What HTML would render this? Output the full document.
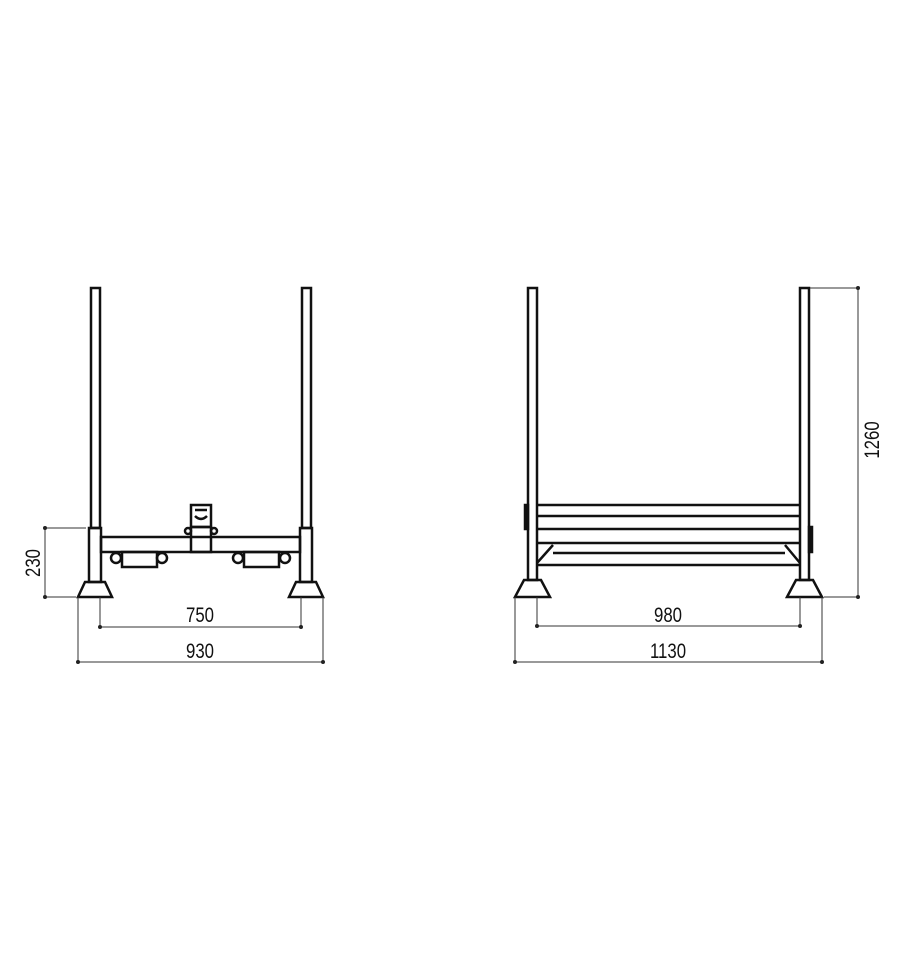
<!DOCTYPE html>
<html><head><meta charset="utf-8"><style>
html,body{margin:0;padding:0;background:#fff;}
svg{display:block}
text{font-family:"Liberation Sans",sans-serif;font-size:21px;fill:#111;}
</style></head><body>
<svg width="900" height="962" viewBox="0 0 900 962" xmlns="http://www.w3.org/2000/svg">
<g fill="none" stroke="#111" stroke-width="2.5">
<!-- LEFT VIEW -->
<rect x="91" y="288" width="9" height="240"/>
<rect x="89" y="528" width="12" height="54"/>
<path d="M85 582 L105 582 L112 597 L78 597 Z"/>
<rect x="302" y="288" width="9" height="240"/>
<rect x="300" y="528" width="12" height="54"/>
<path d="M296 582 L316 582 L323 597 L289 597 Z"/>
<rect x="101" y="537" width="199" height="15"/>
<rect x="191" y="527" width="20" height="25"/>
<rect x="191" y="505" width="20" height="22"/>
<path d="M195 510 L207 510 M195 516 Q201 522 207 516"/>
<circle cx="188" cy="531" r="3"/><circle cx="214" cy="531" r="3"/>
<circle cx="116" cy="558" r="5"/><circle cx="162" cy="558" r="5"/>
<rect x="122" y="552" width="35" height="15"/>
<circle cx="238" cy="558" r="5"/><circle cx="285" cy="558" r="5"/>
<rect x="244" y="552" width="35" height="15"/>
<!-- RIGHT VIEW -->
<rect x="528" y="288" width="9" height="292"/>
<path d="M524 580 L541 580 L550 597 L515 597 Z"/>
<rect x="800" y="288" width="9" height="292"/>
<path d="M796 580 L813 580 L822 597 L787 597 Z"/>
<line x1="537" y1="505" x2="800" y2="505"/>
<line x1="537" y1="516" x2="800" y2="516"/>
<line x1="537" y1="529" x2="800" y2="529"/>
<line x1="537" y1="543" x2="800" y2="543"/>
<line x1="553" y1="553" x2="785" y2="553"/>
<line x1="537" y1="565" x2="800" y2="565"/>
<path d="M553 545 L537 563 M785 545 L800 563"/>
<rect x="525" y="505" width="3" height="24" fill="#111"/>
<rect x="809" y="527" width="3" height="25" fill="#111"/>
</g>
<!-- dimensions -->
<g stroke="#333" stroke-width="1" fill="none">
<line x1="45" y1="528" x2="45" y2="597"/>
<line x1="45" y1="528" x2="86" y2="528"/>
<line x1="45" y1="597" x2="76" y2="597"/>
<line x1="100" y1="597" x2="100" y2="627"/>
<line x1="301" y1="597" x2="301" y2="627"/>
<line x1="100" y1="627" x2="301" y2="627"/>
<line x1="78" y1="597" x2="78" y2="662"/>
<line x1="323" y1="597" x2="323" y2="662"/>
<line x1="78" y1="662" x2="323" y2="662"/>
<line x1="537" y1="597" x2="537" y2="626"/>
<line x1="800" y1="597" x2="800" y2="626"/>
<line x1="537" y1="626" x2="800" y2="626"/>
<line x1="515" y1="597" x2="515" y2="662"/>
<line x1="822" y1="597" x2="822" y2="662"/>
<line x1="515" y1="662" x2="822" y2="662"/>
<line x1="858" y1="288" x2="858" y2="597"/>
<line x1="810" y1="288" x2="858" y2="288"/>
<line x1="824" y1="597" x2="858" y2="597"/>
</g>
<g fill="#222">
<circle cx="45" cy="528" r="2"/><circle cx="45" cy="597" r="2"/>
<circle cx="100" cy="627" r="2"/><circle cx="301" cy="627" r="2"/>
<circle cx="78" cy="662" r="2"/><circle cx="323" cy="662" r="2"/>
<circle cx="537" cy="626" r="2"/><circle cx="800" cy="626" r="2"/>
<circle cx="515" cy="662" r="2"/><circle cx="822" cy="662" r="2"/>
<circle cx="858" cy="288" r="2"/><circle cx="858" cy="597" r="2"/>
</g>
<text transform="translate(200,622) scale(0.8,1)" text-anchor="middle">750</text>
<text transform="translate(200,658) scale(0.8,1)" text-anchor="middle">930</text>
<text transform="translate(668,622) scale(0.8,1)" text-anchor="middle">980</text>
<text transform="translate(668,658) scale(0.8,1)" text-anchor="middle">1130</text>
<text transform="translate(40,563) rotate(-90) scale(0.8,1)" text-anchor="middle">230</text>
<text transform="translate(879,440) rotate(-90) scale(0.8,1)" text-anchor="middle">1260</text>
</svg>
</body></html>
